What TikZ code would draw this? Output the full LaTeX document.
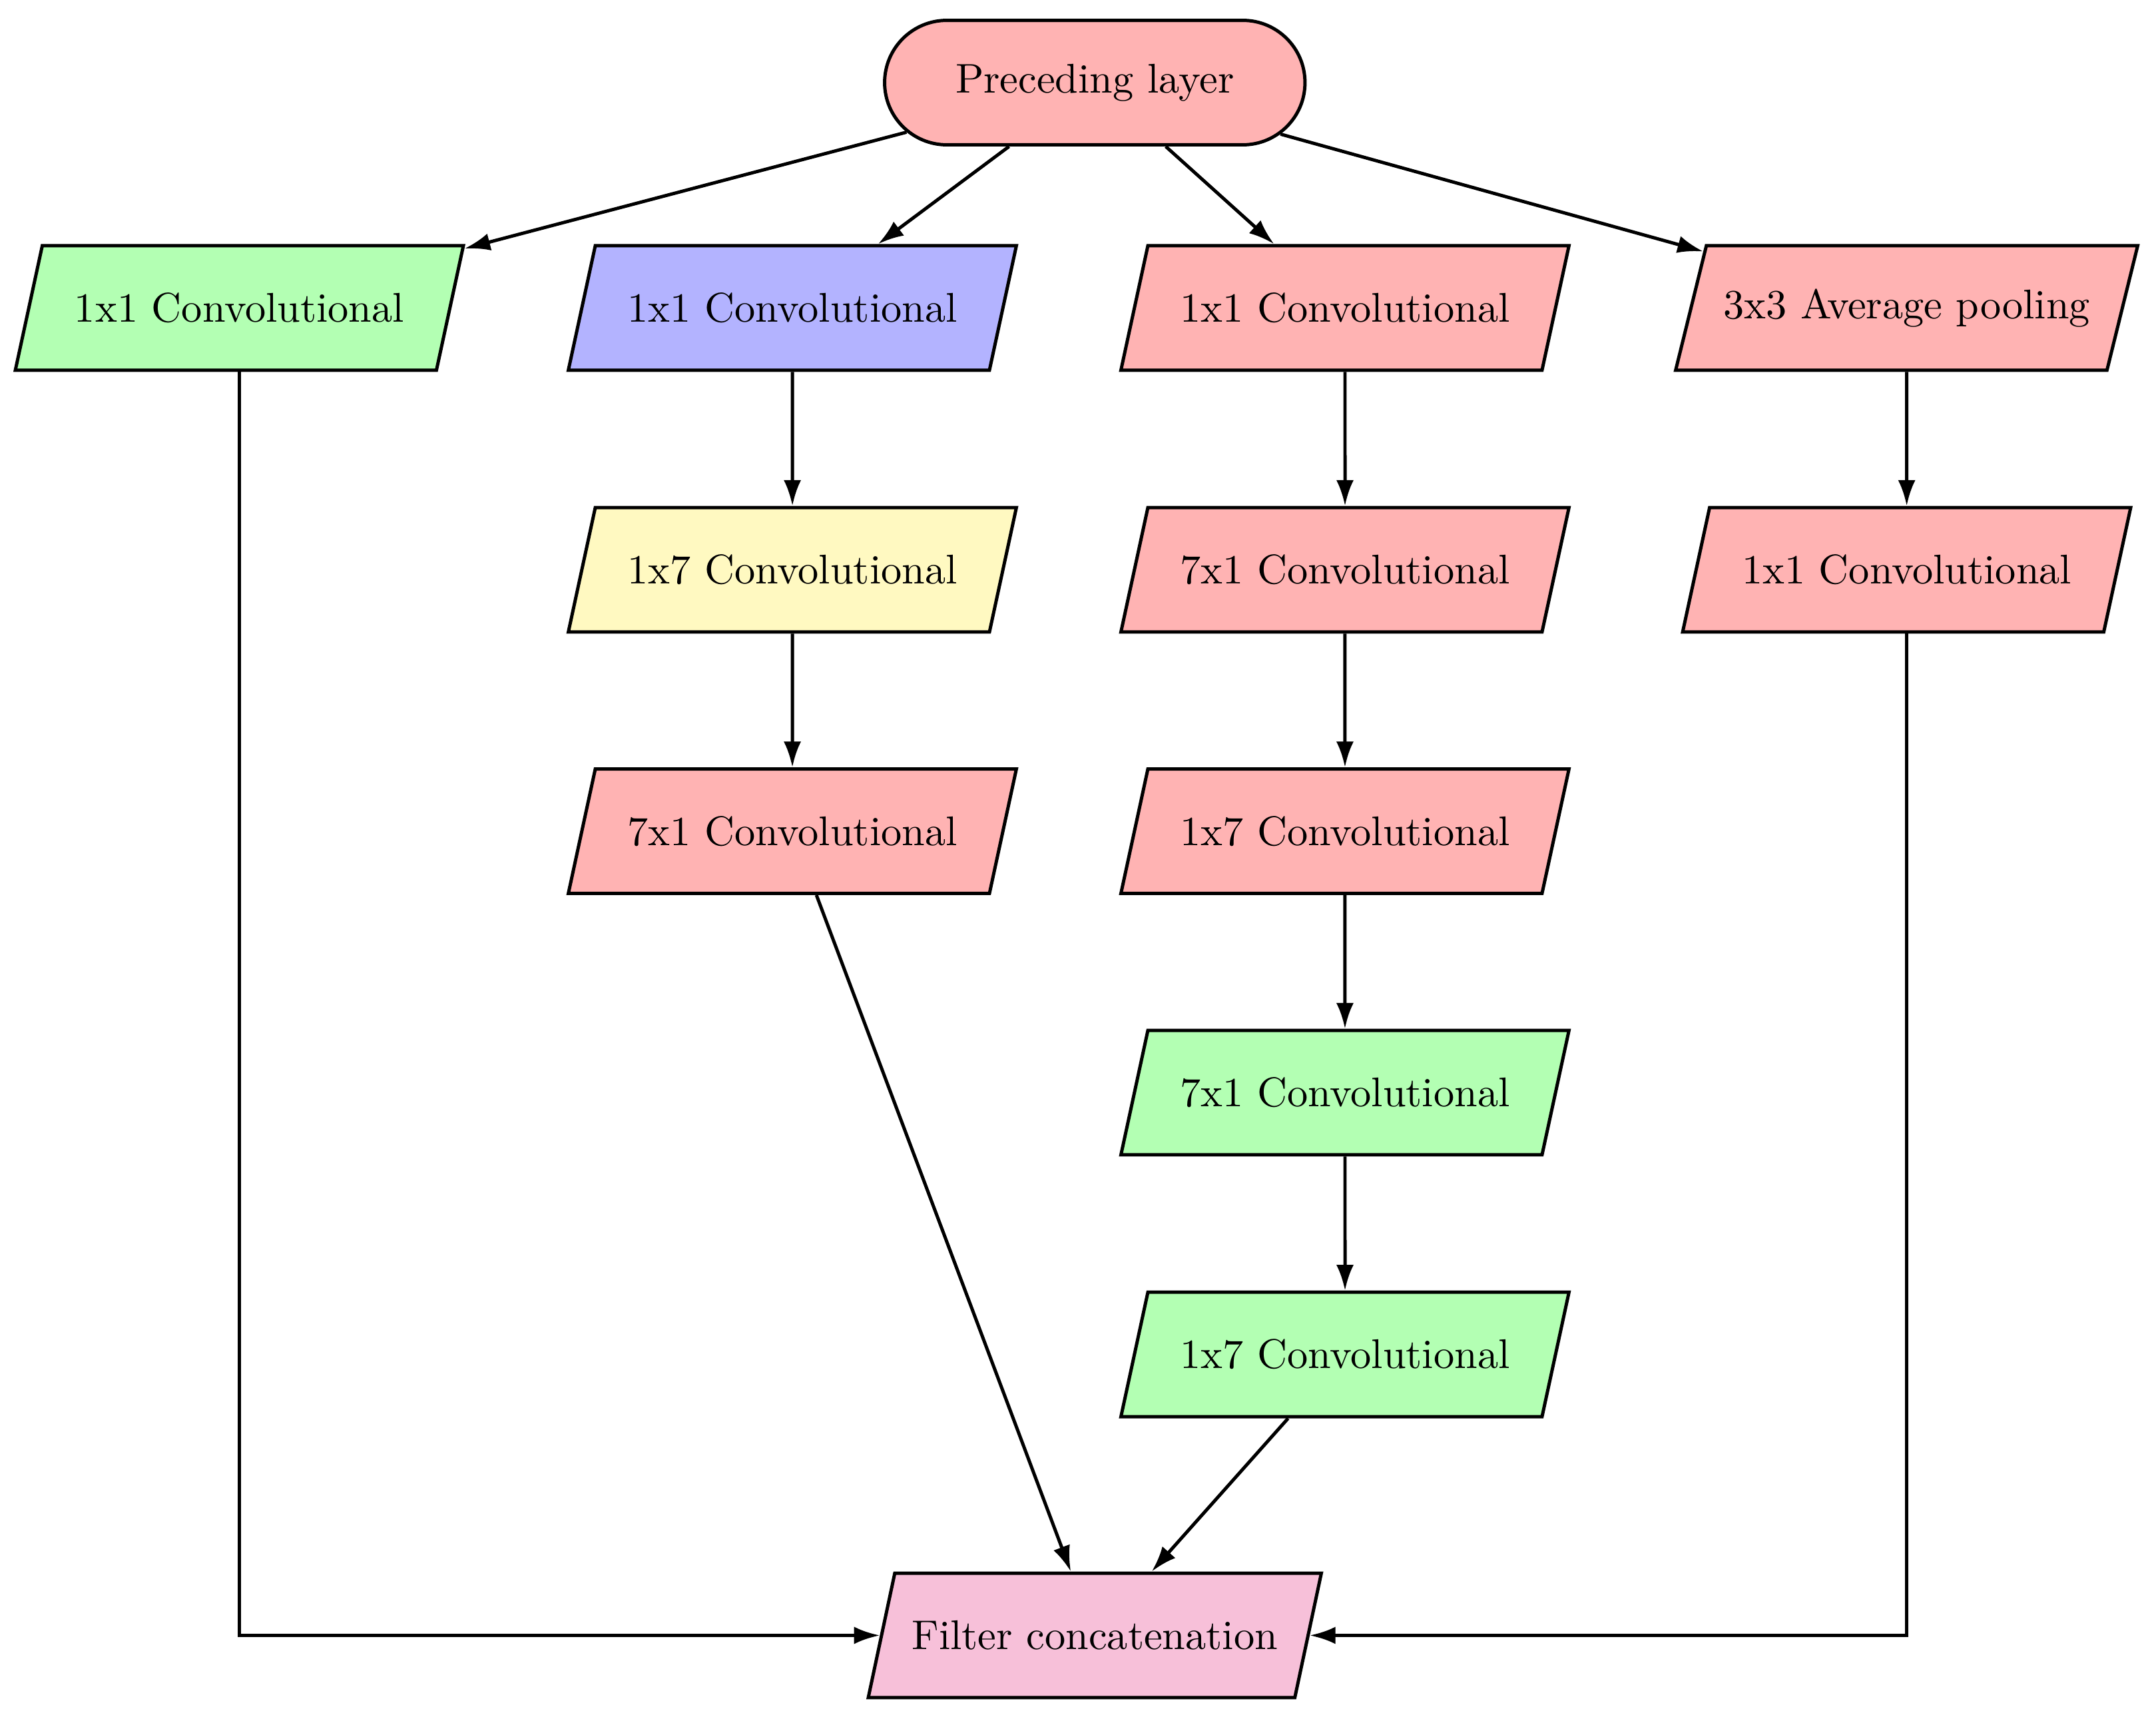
\documentclass[tikz,border=0pt]{standalone}
\usetikzlibrary{shapes.geometric,shapes.misc,arrows.meta}
\definecolor{cred}{RGB}{255,179,179}
\definecolor{cgreen}{RGB}{179,255,179}
\definecolor{cblue}{RGB}{179,179,255}
\definecolor{cyellow}{RGB}{255,249,193}
\definecolor{cpink}{RGB}{247,192,217}
\tikzset{
  layerbox/.style={trapezium, trapezium left angle=65, trapezium right angle=115,
    trapezium stretches body, draw, thick, minimum width=108pt, minimum height=30pt,
    inner ysep=3.33pt, inner xsep=4.1pt},
  startbox/.style={rounded rectangle, draw, thick, fill=cred, minimum width=108pt, minimum height=30pt},
  conn/.style={thick, -{Latex[length=6.2pt,width=4.2pt]}},
}
\begin{document}
\begin{tikzpicture}[x=1pt,y=-1pt]
\useasboundingbox (0,0) rectangle (519.7,412.8);
\node[startbox] (prev) at (263.9,19.9) {Preceding layer};
% column 1
\node[layerbox, fill=cgreen] (a1) at (57.7,74.2) {1x1 Convolutional};
% column 2
\node[layerbox, fill=cblue] (b1) at (191.0,74.2) {1x1 Convolutional};
\node[layerbox, fill=cyellow] (b2) at (191.0,137.3) {1x7 Convolutional};
\node[layerbox, fill=cred] (b3) at (191.0,200.3) {7x1 Convolutional};
% column 3
\node[layerbox, fill=cred] (c1) at (324.2,74.2) {1x1 Convolutional};
\node[layerbox, fill=cred] (c2) at (324.2,137.3) {7x1 Convolutional};
\node[layerbox, fill=cred] (c3) at (324.2,200.3) {1x7 Convolutional};
\node[layerbox, fill=cgreen] (c4) at (324.2,263.3) {7x1 Convolutional};
\node[layerbox, fill=cgreen] (c5) at (324.2,326.4) {1x7 Convolutional};
% column 4
\node[layerbox, fill=cred] (d1) at (459.6,74.2) {3x3 Average pooling};
\node[layerbox, fill=cred] (d2) at (459.6,137.3) {1x1 Convolutional};
% output
\node[layerbox, fill=cpink] (fc) at (263.9,394.1) {Filter concatenation};
% connectors
\draw[conn] (prev) -- (a1);
\draw[conn] (prev) -- (b1);
\draw[conn] (prev) -- (c1);
\draw[conn] (prev) -- (d1);
\draw[conn] (b1) -- (b2);
\draw[conn] (b2) -- (b3);
\draw[conn] (c1) -- (c2);
\draw[conn] (c2) -- (c3);
\draw[conn] (c3) -- (c4);
\draw[conn] (c4) -- (c5);
\draw[conn] (d1) -- (d2);
\draw[conn] (a1) |- (fc);
\draw[conn] (d2) |- (fc);
\draw[conn] (b3) -- (fc);
\draw[conn] (c5) -- (fc);
\end{tikzpicture}
\end{document}
